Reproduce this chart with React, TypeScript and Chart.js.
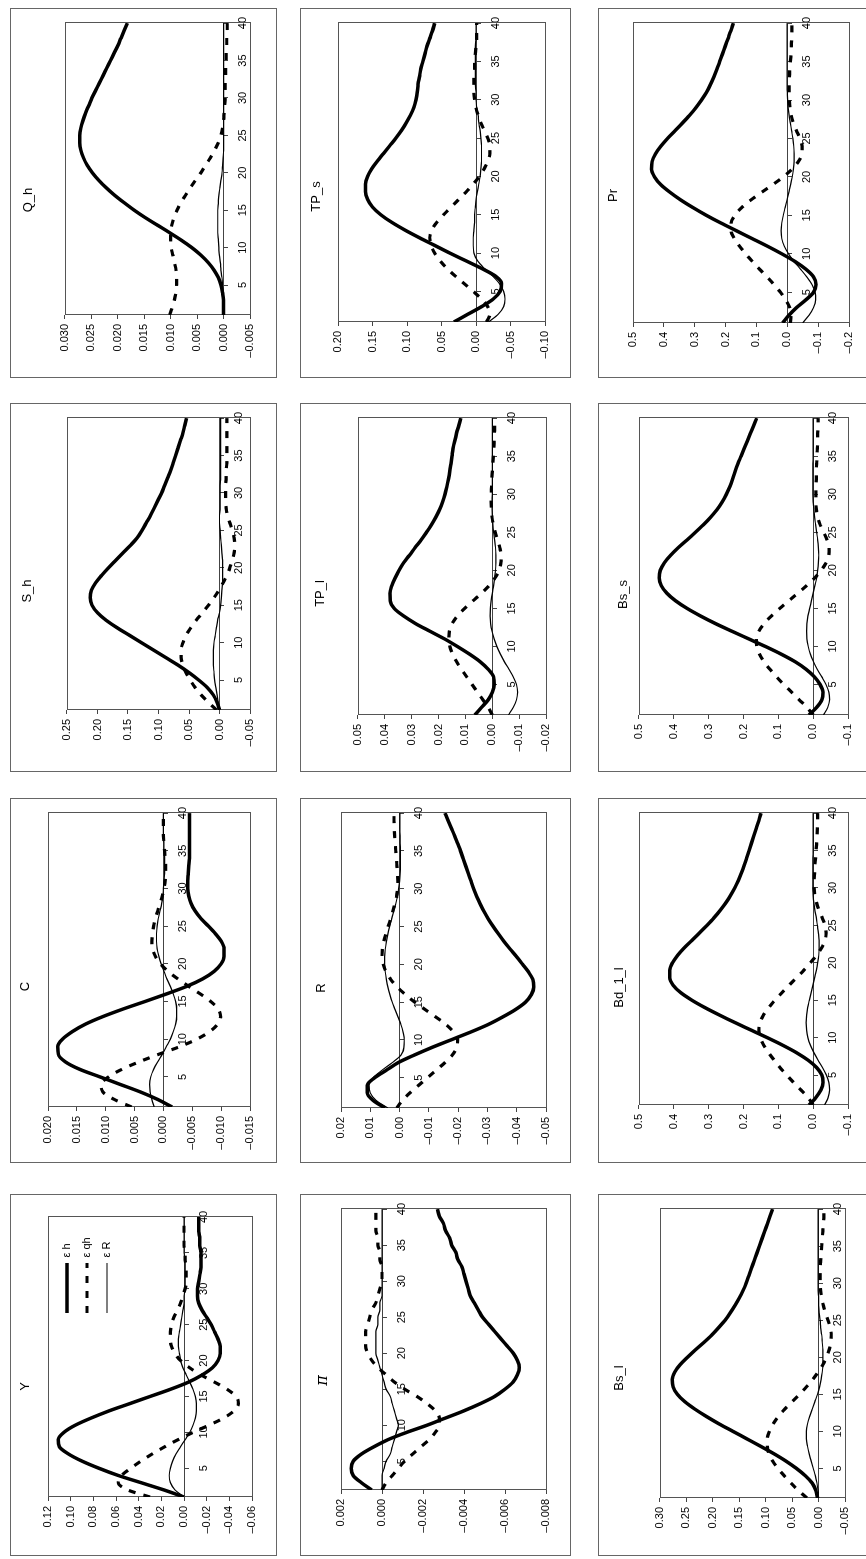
import React, { useEffect, useRef } from 'react';
import { Chart, registerables } from 'chart.js';

Chart.register(...registerables);

// ---------- data ----------
const periods = [1, 2, 3, 4, 5, 6, 7, 8, 9, 10, 11, 12, 13, 14, 15, 16, 17, 18, 19, 20,
  21, 22, 23, 24, 25, 26, 27, 28, 29, 30, 31, 32, 33, 34, 35, 36, 37, 38, 39, 40];
const xTickValues = [5, 10, 15, 20, 25, 30, 35, 40];
const seriesLabels = ['ε h', 'ε qh', 'ε R'];

const Y_eh = [0.000, 0.018, 0.038, 0.058, 0.075, 0.090, 0.102, 0.110, 0.111, 0.106, 0.096, 0.082, 0.066, 0.048, 0.030, 0.012, -0.004, -0.016, -0.025, -0.030, -0.032, -0.032, -0.030, -0.027, -0.024, -0.020, -0.016, -0.013, -0.012, -0.012, -0.013, -0.014, -0.015, -0.015, -0.015, -0.014, -0.014, -0.013, -0.013, -0.013];
const Y_eqh = [0.030, 0.050, 0.058, 0.055, 0.047, 0.038, 0.028, 0.017, 0.005, -0.008, -0.022, -0.035, -0.044, -0.048, -0.046, -0.038, -0.027, -0.015, -0.005, 0.003, 0.008, 0.011, 0.012, 0.012, 0.011, 0.009, 0.006, 0.003, 0.001, -0.001, -0.002, -0.002, -0.002, -0.001, -0.001, 0.000, 0.000, 0.000, 0.000, 0.000];
const Y_er = [0.000, 0.008, 0.012, 0.013, 0.012, 0.010, 0.007, 0.003, -0.001, -0.005, -0.008, -0.010, -0.011, -0.011, -0.010, -0.008, -0.005, -0.002, 0.001, 0.003, 0.004, 0.005, 0.005, 0.004, 0.003, 0.002, 0.001, 0.000, 0.000, -0.001, -0.001, -0.001, -0.001, -0.001, 0.000, 0.000, 0.000, 0.000, 0.000, 0.000];

const C_eh = [-0.0015, 0.0010, 0.0040, 0.0075, 0.0110, 0.0145, 0.0170, 0.0182, 0.0183, 0.0175, 0.0158, 0.0135, 0.0105, 0.0070, 0.0032, -0.0005, -0.0040, -0.0068, -0.0088, -0.0100, -0.0105, -0.0105, -0.0100, -0.0090, -0.0078, -0.0065, -0.0055, -0.0048, -0.0044, -0.0042, -0.0042, -0.0043, -0.0044, -0.0045, -0.0045, -0.0045, -0.0045, -0.0045, -0.0045, -0.0045];
const C_eqh = [0.0055, 0.0085, 0.0105, 0.0108, 0.0095, 0.0072, 0.0042, 0.0008, -0.0028, -0.0058, -0.0080, -0.0094, -0.0099, -0.0095, -0.0082, -0.0064, -0.0044, -0.0025, -0.0008, 0.0005, 0.0014, 0.0019, 0.0020, 0.0019, 0.0017, 0.0014, 0.0010, 0.0006, 0.0002, -0.0001, -0.0003, -0.0004, -0.0004, -0.0003, -0.0002, -0.0001, 0.0000, 0.0000, 0.0000, 0.0000];
const C_er = [0.0016, 0.0020, 0.0023, 0.0024, 0.0022, 0.0017, 0.0010, 0.0002, -0.0005, -0.0012, -0.0017, -0.0021, -0.0023, -0.0023, -0.0021, -0.0017, -0.0012, -0.0006, -0.0001, 0.0004, 0.0008, 0.0011, 0.0012, 0.0012, 0.0011, 0.0009, 0.0006, 0.0003, 0.0001, 0.0000, -0.0001, -0.0002, -0.0002, -0.0002, -0.0001, -0.0001, 0.0000, 0.0000, 0.0000, 0.0000];

const Sh_eh = [0.000, 0.004, 0.010, 0.020, 0.034, 0.050, 0.068, 0.088, 0.108, 0.128, 0.148, 0.168, 0.186, 0.200, 0.209, 0.212, 0.210, 0.203, 0.193, 0.182, 0.170, 0.158, 0.146, 0.135, 0.127, 0.120, 0.113, 0.107, 0.101, 0.095, 0.090, 0.085, 0.080, 0.076, 0.072, 0.068, 0.064, 0.060, 0.057, 0.054];
const Sh_eqh = [0.005, 0.018, 0.030, 0.040, 0.048, 0.055, 0.060, 0.063, 0.063, 0.060, 0.055, 0.047, 0.038, 0.028, 0.018, 0.009, 0.001, -0.006, -0.012, -0.017, -0.021, -0.024, -0.025, -0.024, -0.021, -0.017, -0.013, -0.011, -0.010, -0.010, -0.010, -0.011, -0.011, -0.012, -0.012, -0.012, -0.012, -0.012, -0.012, -0.012];
const Sh_er = [0.000, 0.002, 0.004, 0.006, 0.008, 0.009, 0.010, 0.010, 0.010, 0.009, 0.007, 0.005, 0.003, 0.000, -0.002, -0.003, -0.004, -0.005, -0.005, -0.005, -0.005, -0.004, -0.003, -0.002, -0.001, 0.000, 0.000, -0.001, -0.001, -0.001, -0.001, -0.002, -0.002, -0.002, -0.002, -0.002, -0.002, -0.002, -0.002, -0.002];

const Qh_eh = [0.0000, 0.0000, 0.0000, 0.0002, 0.0005, 0.0010, 0.0018, 0.0029, 0.0043, 0.0060, 0.0080, 0.0102, 0.0125, 0.0148, 0.0169, 0.0188, 0.0206, 0.0222, 0.0236, 0.0248, 0.0258, 0.0265, 0.0270, 0.0272, 0.0272, 0.0270, 0.0266, 0.0261, 0.0255, 0.0249, 0.0242, 0.0235, 0.0228, 0.0221, 0.0214, 0.0207, 0.0200, 0.0194, 0.0188, 0.0182];
const Qh_eqh = [0.0102, 0.0097, 0.0093, 0.0090, 0.0089, 0.0089, 0.0090, 0.0093, 0.0096, 0.0099, 0.0100, 0.0100, 0.0098, 0.0094, 0.0088, 0.0081, 0.0072, 0.0063, 0.0053, 0.0043, 0.0034, 0.0025, 0.0017, 0.0010, 0.0005, 0.0002, 0.0000, -0.0001, -0.0002, -0.0003, -0.0003, -0.0003, -0.0004, -0.0004, -0.0005, -0.0005, -0.0006, -0.0006, -0.0007, -0.0007];
const Qh_er = [0.0000, 0.0000, 0.0001, 0.0001, 0.0002, 0.0003, 0.0005, 0.0006, 0.0008, 0.0009, 0.0010, 0.0011, 0.0011, 0.0011, 0.0011, 0.0010, 0.0009, 0.0007, 0.0005, 0.0003, 0.0002, 0.0001, 0.0000, 0.0000, 0.0000, 0.0000, 0.0000, 0.0000, 0.0000, 0.0000, 0.0000, 0.0000, 0.0000, 0.0000, 0.0000, 0.0000, 0.0000, 0.0000, 0.0000, 0.0000];

const Pi_eh = [0.0005, 0.0010, 0.0014, 0.0015, 0.0014, 0.0010, 0.0004, -0.0003, -0.0012, -0.0022, -0.0031, -0.0040, -0.0048, -0.0055, -0.0060, -0.0064, -0.0066, -0.0067, -0.0066, -0.0064, -0.0061, -0.0058, -0.0055, -0.0052, -0.0049, -0.0047, -0.0045, -0.0043, -0.0042, -0.0041, -0.0040, -0.0039, -0.0037, -0.0036, -0.0034, -0.0033, -0.0031, -0.0030, -0.0028, -0.0027];
const Pi_eqh = [0.0000, -0.0002, -0.0005, -0.0008, -0.0011, -0.0015, -0.0019, -0.0023, -0.0026, -0.0028, -0.0028, -0.0026, -0.0022, -0.0017, -0.0011, -0.0006, -0.0002, 0.0002, 0.0005, 0.0007, 0.0008, 0.0008, 0.0008, 0.0007, 0.0006, 0.0005, 0.0003, 0.0002, 0.0001, 0.0000, 0.0000, 0.0000, 0.0001, 0.0001, 0.0002, 0.0002, 0.0003, 0.0003, 0.0003, 0.0003];
const Pi_er = [0.0000, 0.0000, 0.0000, -0.0001, -0.0002, -0.0004, -0.0005, -0.0006, -0.0007, -0.0008, -0.0007, -0.0006, -0.0005, -0.0004, -0.0002, -0.0001, 0.0000, 0.0001, 0.0002, 0.0003, 0.0003, 0.0003, 0.0003, 0.0002, 0.0002, 0.0001, 0.0001, 0.0000, 0.0000, 0.0000, 0.0000, 0.0000, 0.0000, 0.0000, 0.0000, 0.0000, 0.0000, 0.0000, 0.0000, 0.0000];

const R_eh = [0.0050, 0.0090, 0.0110, 0.0110, 0.0085, 0.0045, 0.0005, -0.0050, -0.0110, -0.0175, -0.0240, -0.0300, -0.0350, -0.0395, -0.0430, -0.0450, -0.0458, -0.0455, -0.0440, -0.0420, -0.0400, -0.0378, -0.0357, -0.0338, -0.0320, -0.0303, -0.0288, -0.0275, -0.0263, -0.0253, -0.0244, -0.0235, -0.0226, -0.0217, -0.0208, -0.0198, -0.0188, -0.0177, -0.0166, -0.0155];
const R_eqh = [0.0010, -0.0010, -0.0035, -0.0065, -0.0095, -0.0125, -0.0155, -0.0180, -0.0195, -0.0198, -0.0185, -0.0160, -0.0125, -0.0088, -0.0052, -0.0020, 0.0008, 0.0030, 0.0046, 0.0056, 0.0060, 0.0059, 0.0054, 0.0047, 0.0039, 0.0031, 0.0023, 0.0016, 0.0010, 0.0007, 0.0006, 0.0007, 0.0009, 0.0011, 0.0013, 0.0015, 0.0017, 0.0018, 0.0019, 0.0019];
const R_er = [0.0040, 0.0080, 0.0100, 0.0104, 0.0090, 0.0060, 0.0025, -0.0005, -0.0015, -0.0016, -0.0012, -0.0005, 0.0005, 0.0015, 0.0025, 0.0033, 0.0040, 0.0045, 0.0049, 0.0051, 0.0051, 0.0049, 0.0045, 0.0040, 0.0034, 0.0027, 0.0020, 0.0013, 0.0007, 0.0003, 0.0000, -0.0002, -0.0003, -0.0003, -0.0003, -0.0002, -0.0002, -0.0001, -0.0001, -0.0001];

const TPl_eh = [0.0065, 0.0040, 0.0015, 0.0000, -0.0007, -0.0005, 0.0015, 0.0045, 0.0085, 0.0130, 0.0178, 0.0232, 0.0285, 0.0330, 0.0365, 0.0380, 0.0381, 0.0374, 0.0362, 0.0347, 0.0330, 0.0308, 0.0287, 0.0265, 0.0245, 0.0226, 0.0210, 0.0196, 0.0185, 0.0176, 0.0169, 0.0163, 0.0158, 0.0154, 0.0150, 0.0146, 0.0140, 0.0133, 0.0125, 0.0117];
const TPl_eqh = [0.0000, 0.0015, 0.0035, 0.0055, 0.0075, 0.0095, 0.0115, 0.0133, 0.0148, 0.0158, 0.0162, 0.0160, 0.0150, 0.0130, 0.0103, 0.0072, 0.0040, 0.0012, -0.0010, -0.0025, -0.0032, -0.0033, -0.0028, -0.0020, -0.0011, -0.0004, 0.0001, 0.0003, 0.0004, 0.0004, 0.0003, 0.0002, 0.0000, -0.0002, -0.0004, -0.0006, -0.0007, -0.0008, -0.0009, -0.0009];
const TPl_er = [-0.0060, -0.0078, -0.0090, -0.0094, -0.0090, -0.0078, -0.0062, -0.0045, -0.0030, -0.0017, -0.0007, 0.0001, 0.0006, 0.0008, 0.0007, 0.0004, 0.0000, -0.0005, -0.0009, -0.0012, -0.0013, -0.0013, -0.0012, -0.0009, -0.0005, -0.0002, 0.0000, 0.0001, 0.0001, 0.0000, 0.0000, 0.0000, 0.0000, 0.0000, 0.0000, 0.0000, 0.0000, 0.0000, 0.0000, 0.0000];

const TPs_eh = [0.032, 0.012, -0.008, -0.025, -0.035, -0.037, -0.028, -0.008, 0.015, 0.038, 0.060, 0.082, 0.103, 0.122, 0.138, 0.150, 0.157, 0.160, 0.160, 0.157, 0.151, 0.143, 0.134, 0.125, 0.116, 0.108, 0.101, 0.095, 0.090, 0.087, 0.085, 0.084, 0.082, 0.080, 0.077, 0.074, 0.071, 0.067, 0.063, 0.060];
const TPs_eqh = [-0.015, -0.020, -0.017, -0.008, 0.004, 0.017, 0.030, 0.042, 0.052, 0.060, 0.065, 0.067, 0.064, 0.057, 0.047, 0.036, 0.025, 0.014, 0.004, -0.005, -0.012, -0.017, -0.020, -0.020, -0.017, -0.012, -0.007, -0.003, 0.000, 0.002, 0.003, 0.003, 0.003, 0.002, 0.002, 0.001, 0.000, -0.001, -0.001, -0.001];
const TPs_er = [-0.018, -0.032, -0.040, -0.042, -0.040, -0.034, -0.024, -0.012, -0.002, 0.003, 0.004, 0.004, 0.003, 0.002, 0.002, 0.001, 0.000, -0.002, -0.004, -0.006, -0.007, -0.008, -0.008, -0.008, -0.007, -0.006, -0.004, -0.003, -0.001, 0.000, 0.000, 0.001, 0.001, 0.001, 0.001, 0.001, 0.001, 0.000, 0.000, 0.000];

const Bsl_eh = [0.002, 0.005, 0.012, 0.025, 0.042, 0.062, 0.085, 0.110, 0.136, 0.162, 0.188, 0.212, 0.234, 0.253, 0.267, 0.275, 0.277, 0.272, 0.262, 0.248, 0.233, 0.217, 0.202, 0.189, 0.177, 0.167, 0.158, 0.150, 0.143, 0.137, 0.132, 0.127, 0.122, 0.117, 0.112, 0.107, 0.102, 0.097, 0.092, 0.087];
const Bsl_eqh = [0.022, 0.038, 0.052, 0.065, 0.077, 0.087, 0.094, 0.097, 0.097, 0.093, 0.086, 0.076, 0.064, 0.050, 0.036, 0.023, 0.011, 0.001, -0.008, -0.015, -0.020, -0.023, -0.024, -0.022, -0.018, -0.013, -0.009, -0.006, -0.004, -0.003, -0.003, -0.003, -0.004, -0.005, -0.006, -0.007, -0.008, -0.009, -0.010, -0.010];
const Bsl_er = [0.000, 0.001, 0.003, 0.006, 0.010, 0.014, 0.018, 0.021, 0.023, 0.023, 0.021, 0.017, 0.012, 0.007, 0.002, -0.002, -0.005, -0.007, -0.008, -0.008, -0.008, -0.007, -0.006, -0.004, -0.003, -0.001, 0.000, 0.000, 0.001, 0.001, 0.001, 0.001, 0.001, 0.001, 0.001, 0.001, 0.001, 0.001, 0.001, 0.001];

const Bd1l_eh = [0.012, -0.008, -0.022, -0.028, -0.025, -0.010, 0.015, 0.048, 0.088, 0.132, 0.178, 0.224, 0.268, 0.310, 0.348, 0.380, 0.402, 0.412, 0.412, 0.404, 0.389, 0.370, 0.348, 0.326, 0.305, 0.285, 0.267, 0.251, 0.237, 0.225, 0.215, 0.206, 0.198, 0.191, 0.184, 0.177, 0.170, 0.163, 0.156, 0.150];
const Bd1l_eqh = [0.000, 0.015, 0.035, 0.056, 0.076, 0.095, 0.112, 0.128, 0.142, 0.152, 0.156, 0.153, 0.143, 0.128, 0.110, 0.090, 0.069, 0.048, 0.027, 0.008, -0.010, -0.024, -0.034, -0.037, -0.034, -0.026, -0.017, -0.010, -0.005, -0.003, -0.003, -0.004, -0.005, -0.007, -0.008, -0.010, -0.011, -0.012, -0.013, -0.013];
const Bd1l_er = [-0.033, -0.043, -0.047, -0.045, -0.038, -0.027, -0.014, -0.002, 0.008, 0.015, 0.019, 0.020, 0.019, 0.016, 0.011, 0.006, 0.001, -0.004, -0.009, -0.013, -0.016, -0.017, -0.017, -0.015, -0.012, -0.009, -0.005, -0.002, 0.000, 0.001, 0.001, 0.001, 0.001, 0.001, 0.000, 0.000, 0.000, 0.000, 0.000, 0.000];

const Bss_eh = [0.012, -0.010, -0.025, -0.028, -0.020, -0.004, 0.020, 0.052, 0.092, 0.137, 0.185, 0.233, 0.280, 0.323, 0.362, 0.395, 0.420, 0.436, 0.442, 0.439, 0.427, 0.409, 0.387, 0.362, 0.338, 0.315, 0.294, 0.276, 0.261, 0.249, 0.239, 0.231, 0.224, 0.216, 0.207, 0.198, 0.189, 0.180, 0.171, 0.162];
const Bss_eqh = [0.000, 0.018, 0.040, 0.062, 0.084, 0.105, 0.124, 0.141, 0.154, 0.162, 0.163, 0.156, 0.141, 0.120, 0.096, 0.070, 0.044, 0.019, -0.004, -0.023, -0.037, -0.045, -0.046, -0.040, -0.030, -0.020, -0.013, -0.009, -0.008, -0.008, -0.008, -0.009, -0.009, -0.010, -0.011, -0.012, -0.013, -0.013, -0.014, -0.014];
const Bss_er = [-0.030, -0.042, -0.047, -0.045, -0.037, -0.025, -0.012, -0.001, 0.008, 0.014, 0.018, 0.019, 0.018, 0.015, 0.010, 0.005, 0.000, -0.005, -0.010, -0.013, -0.015, -0.016, -0.015, -0.013, -0.010, -0.007, -0.004, -0.002, 0.000, 0.001, 0.001, 0.001, 0.001, 0.001, 0.000, 0.000, 0.000, 0.000, 0.000, 0.000];

const Pr_eh = [0.015, -0.005, -0.030, -0.060, -0.085, -0.093, -0.085, -0.060, -0.025, 0.018, 0.065, 0.115, 0.165, 0.215, 0.262, 0.305, 0.345, 0.380, 0.410, 0.430, 0.440, 0.438, 0.427, 0.410, 0.388, 0.364, 0.340, 0.317, 0.296, 0.278, 0.262, 0.249, 0.238, 0.228, 0.219, 0.210, 0.201, 0.192, 0.183, 0.175];
const Pr_eqh = [-0.010, -0.012, -0.008, 0.005, 0.022, 0.043, 0.066, 0.090, 0.113, 0.135, 0.155, 0.172, 0.182, 0.182, 0.170, 0.148, 0.118, 0.083, 0.047, 0.013, -0.015, -0.036, -0.047, -0.048, -0.041, -0.030, -0.020, -0.013, -0.009, -0.007, -0.006, -0.006, -0.007, -0.008, -0.010, -0.012, -0.013, -0.014, -0.015, -0.015];
const Pr_er = [-0.050, -0.070, -0.085, -0.092, -0.090, -0.080, -0.063, -0.043, -0.022, -0.004, 0.010, 0.018, 0.020, 0.018, 0.013, 0.007, 0.001, -0.005, -0.011, -0.016, -0.020, -0.022, -0.022, -0.021, -0.018, -0.014, -0.010, -0.006, -0.003, -0.001, 0.000, 0.001, 0.001, 0.001, 0.001, 0.001, 0.001, 0.001, 0.001, 0.001];

// axis ranges: [min, max, step, decimals]
const panelTitles = ['Y', 'C', 'S_h', 'Q_h', 'π', 'R', 'TP_l', 'TP_s', 'Bs_l', 'Bd_1_l', 'Bs_s', 'Pr'];
const panelAxes = [
  [-0.06, 0.12, 0.02, 2], [-0.015, 0.020, 0.005, 3], [-0.05, 0.25, 0.05, 2], [-0.005, 0.030, 0.005, 3],
  [-0.008, 0.002, 0.002, 3], [-0.05, 0.02, 0.01, 2], [-0.02, 0.05, 0.01, 2], [-0.10, 0.20, 0.05, 2],
  [-0.05, 0.30, 0.05, 2], [-0.1, 0.5, 0.1, 1], [-0.1, 0.5, 0.1, 1], [-0.2, 0.5, 0.1, 1],
];
const panelSeries = [
  [Y_eh, Y_eqh, Y_er], [C_eh, C_eqh, C_er], [Sh_eh, Sh_eqh, Sh_er], [Qh_eh, Qh_eqh, Qh_er],
  [Pi_eh, Pi_eqh, Pi_er], [R_eh, R_eqh, R_er], [TPl_eh, TPl_eqh, TPl_er], [TPs_eh, TPs_eqh, TPs_er],
  [Bsl_eh, Bsl_eqh, Bsl_er], [Bd1l_eh, Bd1l_eqh, Bd1l_er], [Bss_eh, Bss_eqh, Bss_er], [Pr_eh, Pr_eqh, Pr_er],
];

// ---------- layout (landscape coordinates, later rotated) ----------
const colX = [3, 396, 787, 1181];
const colW = [362, 365, 369, 370];
const rowY = [10, 300, 598];
const rowH = [267, 271, 271];
// plot area padding inside each panel: left, right, top, bottom
const plotPads = [
  [59, 23, 38, 25], [56, 12, 38, 27], [62, 7, 57, 27], [63, 14, 55, 27],
  [66, 11, 41, 25], [55, 15, 41, 25], [57, 12, 58, 25], [56, 7, 38, 26],
  [58, 6, 62, 24], [58, 14, 41, 21], [57, 14, 41, 21], [55, 5, 35, 20],
];
const titleCenters = [15, 15, 17, 18, 23, 21, 20, 16, 21, 21, 25, 15];

const FONT = "'Liberation Sans', Arial, sans-serif";

function fmt(v: number, dec: number) {
  const r = Number(v.toFixed(dec));
  if (r === 0) return (0).toFixed(dec);
  return r < 0 ? '\u2013' + Math.abs(r).toFixed(dec) : r.toFixed(dec);
}

function Panel({ idx }: { idx: number }) {
  const ref = useRef<HTMLCanvasElement | null>(null);
  const col = idx % 4;
  const row = Math.floor(idx / 4);
  const w = colW[col];
  const h = rowH[row];

  useEffect(() => {
    const canvas = ref.current;
    if (!canvas) return;
    const [pl, pr, pt, pb] = plotPads[idx];
    const [min, max, step, dec] = panelAxes[idx];
    const [eh, eqh, er] = panelSeries[idx];
    const title = panelTitles[idx];
    const isPi = title === 'π';
    const tSize = isPi ? 16 : 13;
    const lh = tSize * 1.2;
    const tTop = titleCenters[idx] - lh / 2;
    const tBottom = pt - tTop - lh;
    const showLegend = idx === 0;

    const frame = {
      id: 'frame' + idx,
      afterLayout(chart: any) {
        if (showLegend && chart.legend) {
          const lg = chart.legend;
          const L = 234;
          const T = 42.5;
          lg.left = L; lg.top = T; lg.width = 110; lg.height = 120;
          lg.right = L + 110; lg.bottom = T + 120;
        }
      },
      beforeDatasetsDraw(chart: any) {
        const { ctx, chartArea: a } = chart;
        ctx.save();
        ctx.strokeStyle = '#555';
        ctx.lineWidth = 1;
        ctx.strokeRect(Math.round(a.left) + 0.5, Math.round(a.top) + 0.5,
          Math.round(a.right - a.left), Math.round(a.bottom - a.top));
        ctx.restore();
      },
      afterDraw(chart: any) {
        const { ctx } = chart;
        ctx.save();
        ctx.strokeStyle = '#666';
        ctx.lineWidth = 1;
        ctx.strokeRect(0.5, 0.5, w - 1, h - 1);
        ctx.restore();
      },
    };

    const chart = new Chart(canvas, {
      type: 'line',
      data: {
        labels: periods,
        datasets: [
          { label: seriesLabels[0], data: eh, borderColor: '#000', backgroundColor: '#000', borderWidth: 3.5, pointRadius: 0, pointHoverRadius: 0, fill: false, cubicInterpolationMode: 'monotone' },
          { label: seriesLabels[1], data: eqh, borderColor: '#000', backgroundColor: '#000', borderWidth: 3.2, borderDash: [7, 8], pointRadius: 0, pointHoverRadius: 0, fill: false, cubicInterpolationMode: 'monotone' },
          { label: seriesLabels[2], data: er, borderColor: '#000', backgroundColor: '#000', borderWidth: 1.2, pointRadius: 0, pointHoverRadius: 0, fill: false, cubicInterpolationMode: 'monotone' },
        ],
      } as any,
      options: {
        animation: false,
        responsive: false,
        events: [],
        layout: { padding: { left: 0, right: pr, top: 0, bottom: pb } },
        plugins: {
          tooltip: { enabled: false },
          title: {
            display: true,
            text: title,
            color: '#000',
            font: { family: isPi ? "'DejaVu Serif', serif" : FONT, size: tSize, weight: 'normal', style: isPi ? 'italic' : 'normal' },
            padding: { top: tTop, bottom: tBottom },
          },
          legend: {
            display: showLegend,
            position: 'chartArea',
            align: 'start',
            labels: {
              color: '#000',
              font: { family: FONT, size: 11 },
              usePointStyle: true,
              pointStyle: 'line',
              pointStyleWidth: 50,
              padding: 9,
              generateLabels(c: any) {
                const items = (Chart.defaults as any).plugins.legend.labels.generateLabels(c);
                return items.map((it: any, i: number) => {
                  const ds: any = c.data.datasets[i];
                  return { ...it, lineDash: ds.borderDash || [], lineWidth: ds.borderWidth, strokeStyle: '#000', pointStyle: 'line' };
                });
              },
            },
          },
        },
        scales: {
          x: {
            type: 'linear',
            min: 1,
            max: 40,
            position: { y: 0 },
            afterBuildTicks(scale: any) {
              scale.ticks = xTickValues.map((v) => ({ value: v }));
            },
            grid: { drawOnChartArea: false, drawTicks: true, tickLength: 4, color: '#444', lineWidth: 1 },
            border: { display: true, color: '#444', width: 1 },
            ticks: { color: '#000', font: { family: FONT, size: 11 }, padding: 9, maxRotation: 0, autoSkip: false, callback: (v: any) => String(v) },
          },
          y: {
            type: 'linear',
            min,
            max,
            afterBuildTicks(scale: any) {
              const n = Math.round((max - min) / step);
              const t = [];
              for (let i = 0; i <= n; i++) t.push({ value: min + i * step });
              scale.ticks = t;
            },
            afterFit(scale: any) {
              scale.width = pl;
            },
            grid: { drawOnChartArea: false, drawTicks: true, tickLength: 4, color: '#444' },
            border: { display: false },
            ticks: { color: '#000', font: { family: FONT, size: 11 }, padding: 5, autoSkip: false, callback: (v: any) => fmt(Number(v), dec) },
          },
        },
      } as any,
      plugins: [frame],
    });
    return () => chart.destroy();
  }, [idx, w, h]);

  return (
    <div style={{ position: 'absolute', left: colX[col], top: rowY[row], width: w, height: h }}>
      <canvas ref={ref} width={w} height={h} style={{ display: 'block', width: w, height: h }} />
    </div>
  );
}

export default function App() {
  return (
    <div style={{ position: 'absolute', left: 0, top: 0, width: 866, height: 1559, overflow: 'hidden', background: '#fff' }}>
      <div style={{ position: 'absolute', left: 0, top: 0, width: 1559, height: 866, transformOrigin: '0 0', transform: 'translateY(1559px) rotate(-90deg)' }}>
        {panelTitles.map((_, i) => <Panel key={i} idx={i} />)}
      </div>
    </div>
  );
}
